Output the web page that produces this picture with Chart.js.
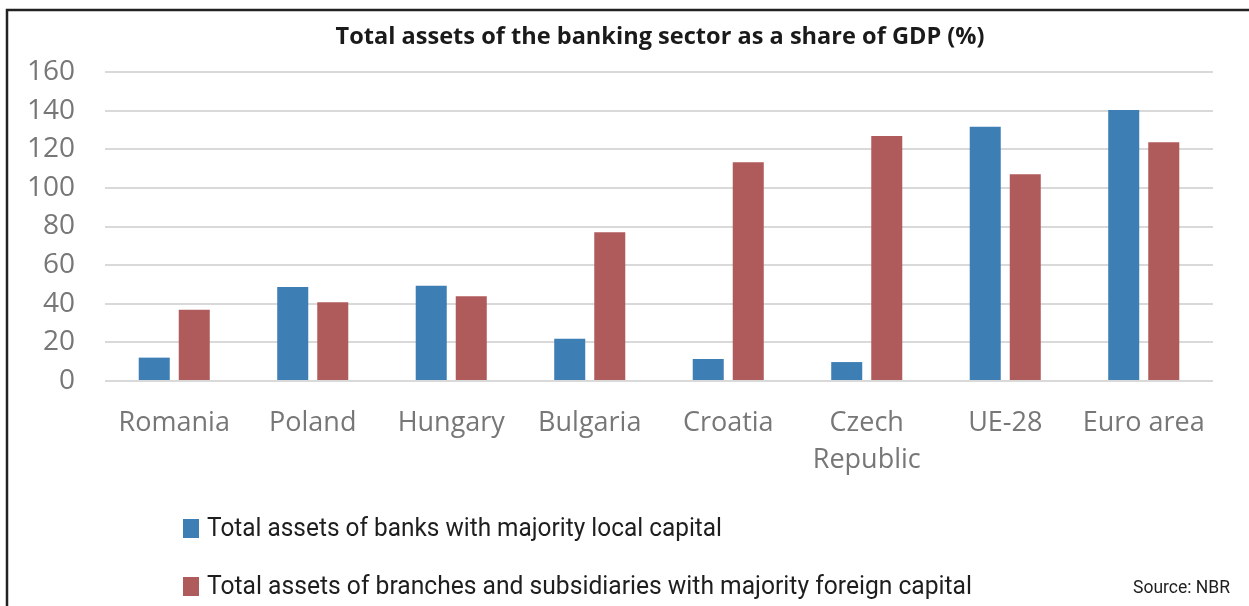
<!DOCTYPE html>
<html>
<head>
<meta charset="utf-8">
<title>Banking sector assets</title>
<script src="https://cdn.jsdelivr.net/npm/chart.js@4.4.1/dist/chart.umd.min.js"></script>
<style>
  html, body { margin: 0; padding: 0; background: #fff; }
  #wrap { position: relative; width: 1249px; height: 606px; }
</style>
</head>
<body>
<div id="wrap"><canvas id="assetsChart" width="1249" height="606"></canvas></div>
<script>
// Total assets of the banking sector, % of GDP
const countries = ['Romania', 'Poland', 'Hungary', 'Bulgaria', 'Croatia', ['Czech', 'Republic'], 'UE-28', 'Euro area'];
const localCapital = [12.1, 48.7, 49.3, 21.9, 11.4, 9.8, 131.7, 140.3];
const foreignCapital = [36.9, 40.8, 43.9, 77.0, 113.3, 126.9, 107.0, 123.6];
const seriesNames = [
    'Total assets of banks with majority local capital',
    'Total assets of branches and subsidiaries with majority foreign capital'
];
const chartTitle = 'Total assets of the banking sector as a share of GDP (%)';
const sourceNote = 'Source: NBR';

const blue = '#3d7eb4';
const red = '#b05b5b';

// frame, title, stacked legend and source line drawn straight on the canvas
const decorations = {
    id: 'decorations',
    afterDraw(chart) {
        const ctx = chart.ctx;
        ctx.save();

        // frame (top and left edges)
        ctx.strokeStyle = '#222';
        ctx.lineWidth = 2.5;
        ctx.beginPath();
        ctx.moveTo(7, 606);
        ctx.lineTo(7, 10);
        ctx.lineTo(1249, 10);
        ctx.stroke();

        // title, squeezed to the width of the box
        ctx.fillStyle = '#1a1a1a';
        ctx.font = 'bold 24px "Open Sans"';
        ctx.textAlign = 'center';
        ctx.textBaseline = 'middle';
        ctx.fillText(chartTitle, 660, 37, 649);

        // legend, one item per row
        const rows = [529, 587];
        const widths = [515, 765];
        ctx.textAlign = 'left';
        chart.data.datasets.forEach((ds, i) => {
            ctx.fillStyle = ds.backgroundColor;
            ctx.fillRect(183, rows[i] - 10, 16, 19);
            ctx.fillStyle = '#1e1e1e';
            ctx.font = '25px Roboto';
            ctx.fillText(ds.label, 207, rows[i] + 1, widths[i]);
        });

        ctx.font = '18px Roboto';
        ctx.fillStyle = '#1e1e1e';
        ctx.fillText(sourceNote, 1133, 588, 97);
        ctx.restore();
    }
};

new Chart(document.getElementById('assetsChart'), {
    type: 'bar',
    data: {
        labels: countries,
        datasets: [{
            label: seriesNames[0],
            data: localCapital,
            backgroundColor: blue,
            categoryPercentage: 0.578,
            barPercentage: 0.775
        }, {
            label: seriesNames[1],
            data: foreignCapital,
            backgroundColor: red,
            categoryPercentage: 0.578,
            barPercentage: 0.775
        }]
    },
    options: {
        responsive: false,
        animation: false,
        layout: { padding: { left: 0, right: 36, top: 72, bottom: 0 } },
        plugins: {
            legend: { display: false },
            tooltip: { enabled: false },
            title: { display: false }
        },
        scales: {
            x: {
                grid: { display: false },
                border: { display: false },
                ticks: {
                    color: '#777',
                    font: { family: 'Open Sans', size: 27, lineHeight: 1.4 },
                    padding: 15,
                    maxRotation: 0,
                    autoSkip: false
                },
                afterFit(scale) { scale.height = 225; }
            },
            y: {
                min: 0,
                max: 160,
                ticks: {
                    stepSize: 20,
                    color: '#777',
                    font: { family: 'Open Sans', size: 28 },
                    padding: 30
                },
                grid: { color: '#d9d9d9', lineWidth: 2, drawTicks: false },
                border: { display: false },
                afterFit(scale) { scale.width = 105; }
            }
        }
    },
    plugins: [decorations]
});
</script>
</body>
</html>
